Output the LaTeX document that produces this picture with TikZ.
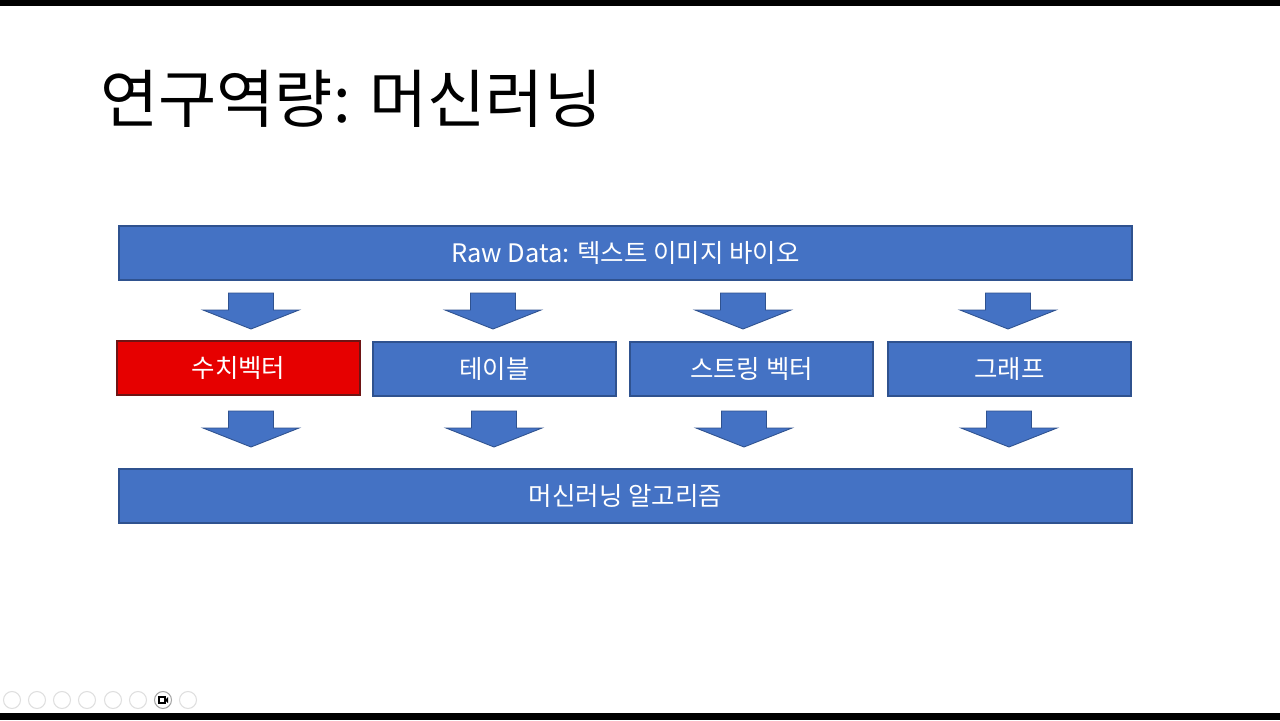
\documentclass[tikz,border=0pt]{standalone}
\usepackage{fontspec}
\newfontfamily\kofont{Noto Sans CJK KR}
\definecolor{boxblue}{RGB}{68,114,196}
\definecolor{boxedge}{RGB}{47,82,143}
\definecolor{boxred}{RGB}{230,0,0}
\definecolor{rededge}{RGB}{110,20,20}

\begin{document}
\begin{tikzpicture}[x=0.02cm, y=-0.02cm,
    box/.style={draw=boxedge, fill=boxblue, line width=0.8pt, text=white, inner sep=0pt,
      minimum height=1.08cm, font=\kofont\fontsize{14.5}{17}\selectfont},
    wide/.style={box, minimum width=20.26cm},
    narrow/.style={box, minimum width=4.86cm},
    dnarrow/.pic={\filldraw[draw=boxedge, fill=boxblue, line width=0.5pt]
      (-22.5,0) -- (22.5,0) -- (22.5,17) -- (48,17) -- (0,36) -- (-48,17) -- (-22.5,17) -- cycle;}]
        % Hintergrund und schwarze Balken
        \useasboundingbox (0,0) rectangle (1280,720);
        \fill[white] (0,0) rectangle (1280,720);
        \fill[black] (0,0) rectangle (1280,6);
        \fill[black] (0,713) rectangle (1280,720);

        % Titel
        \node[anchor=base west, inner sep=0pt, font=\kofont\fontsize{36}{43}\selectfont] (title) at (100,122) {연구역량: 머신러닝};

        % Rohdaten
        \node[wide] (raw) at (625.5,253) {Raw Data: 텍스트 이미지 바이오};

        % Darstellungen
        \node[narrow, fill=boxred, draw=rededge] (vec) at (238.5,368) {수치벡터};
        \node[narrow] (table) at (494.5,369) {테이블};
        \node[narrow] (str) at (751.5,369) {스트링 벡터};
        \node[narrow] (graph) at (1009.5,369) {그래프};

        % Algorithmus
        \node[wide] (algo) at (625.5,496) {머신러닝 알고리즘};

        % Blockpfeile
        \foreach \x in {251,493,743,1008}
            \pic at (\x,293) {dnarrow};
        \foreach \x in {251,494,744,1009}
            \pic at (\x,411) {dnarrow};

        % Steuerleiste unten
        \foreach \x in {12,37,62,87,113,138,188}
            \draw[gray!25, line width=0.6pt] (\x,700) circle (0.17cm);
        \draw[gray!70, line width=0.6pt] (163,700) circle (0.17cm);
        \draw[black, line width=0.6pt] (159,697) rectangle (165,703);
        \fill[black] (165,700) -- (168,697) -- (168,703) -- cycle;

    \end{tikzpicture}
\end{document}
